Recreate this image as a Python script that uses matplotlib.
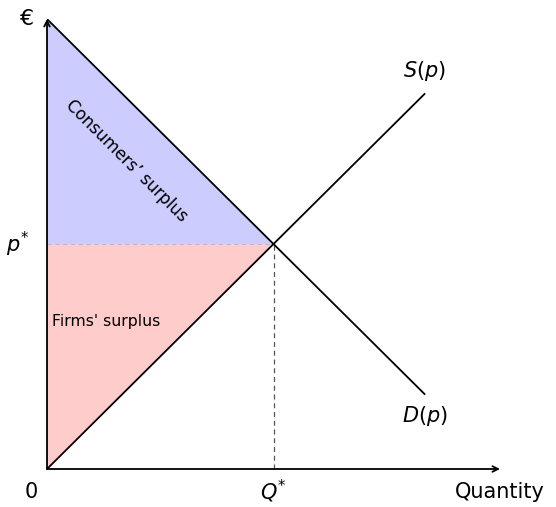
import matplotlib
matplotlib.use("Agg")
import matplotlib.pyplot as plt

# supply / demand (linear), equilibrium at q*=1, p*=1
q_supply = [0, 5 / 3]
p_supply = [0, 5 / 3]
q_demand = [0, 5 / 3]
p_demand = [2, 1 / 3]
q_star, p_star = 1, 1
x_max, y_max = 2, 2

plt.rcParams["mathtext.fontset"] = "dejavusans"

fig = plt.figure(figsize=(5.56, 5.07), dpi=100)
ax = fig.add_axes([47 / 556, 38 / 507, 453 / 556, 450 / 507])
ax.set_xlim(0, x_max)
ax.set_ylim(0, y_max)
ax.axis("off")

# surplus areas
ax.fill([0, q_star, 0], [p_star, p_star, p_demand[0]], color="#ccccff", lw=0)
ax.fill([0, q_star, 0], [0, p_star, p_star], color="#ffcccc", lw=0)

# equilibrium guides
ax.plot([0, q_star], [p_star, p_star], ls=(0, (4, 3)), color="#b8b8e0", lw=0.8)
ax.plot([q_star, q_star], [0, p_star], ls=(0, (4, 3)), color="#555555", lw=0.9)

# curves
ax.plot(q_supply, p_supply, color="black", lw=1.3)
ax.plot(q_demand, p_demand, color="black", lw=1.3)

# axes arrows
arrow = dict(arrowstyle="->", color="black", lw=1.3, shrinkA=0, shrinkB=0)
ax.annotate("", xy=(x_max, 0), xytext=(0, 0), arrowprops=arrow, annotation_clip=False)
ax.annotate("", xy=(0, y_max), xytext=(0, 0), arrowprops=arrow, annotation_clip=False)

fs = 15
ax.text(-0.09, y_max, "€", ha="center", va="center", fontsize=fs + 1)
ax.text(-0.13, p_star, r"$p^{*}$", ha="center", va="center", fontsize=fs)
ax.text(-0.07, -0.1, "0", ha="center", va="center", fontsize=fs)
ax.text(q_star, -0.1, r"$Q^{*}$", ha="center", va="center", fontsize=fs)
ax.text(x_max, -0.1, "Quantity", ha="center", va="center", fontsize=fs)
ax.text(q_supply[1], p_supply[1] + 0.1, r"$S(p)$", ha="center", va="center", fontsize=fs)
ax.text(q_demand[1], p_demand[1] - 0.1, r"$D(p)$", ha="center", va="center", fontsize=fs)

ax.text(0.35, 1.37, "Consumers’ surplus", rotation=-45, ha="center", va="center",
        fontsize=12, rotation_mode="anchor")
ax.text(0.26, 0.655, "Firms' surplus", ha="center", va="center", fontsize=11.3)

fig.savefig("out.png", dpi=100)
